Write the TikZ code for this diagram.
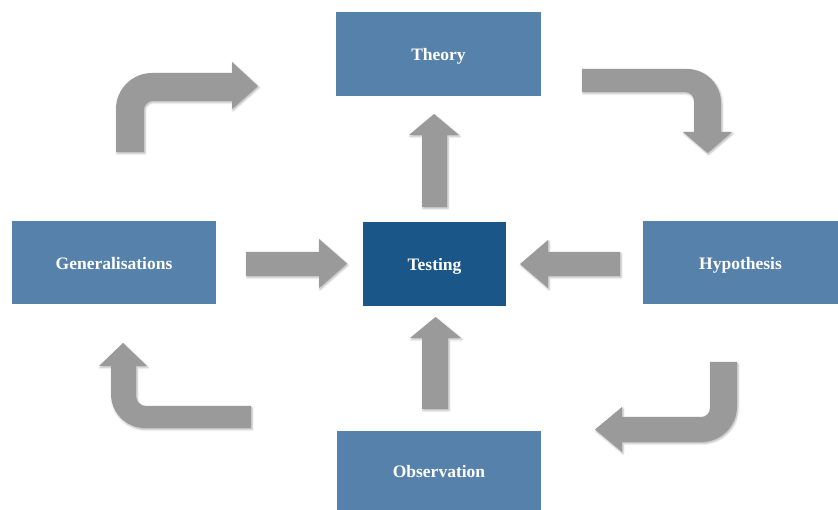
\documentclass[tikz,border=0pt]{standalone}
\usepackage{fontspec}
\setmainfont{Liberation Serif}
\usetikzlibrary{shadows.blur}

\definecolor{boxblue}{HTML}{5581AB}
\definecolor{testblue}{HTML}{1A5788}
\definecolor{arrowgray}{HTML}{9A9A9A}

\tikzset{
  stage/.style={fill=boxblue, text=white, inner sep=0pt,
    text height=14.5pt, text depth=0.5pt,
    font=\fontsize{17.5}{20}\selectfont\bfseries, anchor=center},
  core/.style={stage, fill=testblue},
  blockarrow/.style={fill=arrowgray,
    blur shadow={shadow xshift=1pt, shadow yshift=-1.5pt,
      shadow blur radius=2pt, shadow opacity=30}}
}

\begin{document}
\begin{tikzpicture}[x=1pt, y=-1pt]
  \useasboundingbox (0,0) rectangle (838,510);

  % stages of the cycle
  \node[stage, minimum width=205pt, minimum height=84pt] (theory) at (438.5,54) {Theory};
  \node[core,  minimum width=143pt, minimum height=84pt] (testing) at (434.5,264) {Testing};
  \node[stage, minimum width=204pt, minimum height=83pt] (general) at (114,262.5) {Generalisations};
  \node[stage, minimum width=195pt, minimum height=83pt] (hypo) at (740.5,262.5) {Hypothesis};
  \node[stage, minimum width=204pt, minimum height=79pt] (obs) at (439,470.5) {Observation};

  % straight block arrows into and out of Testing
  \fill[blockarrow] (246,252) -- (319,252) -- (319,239) -- (347,263.5)
    -- (319,288) -- (319,276) -- (246,276) -- cycle;
  \fill[blockarrow] (620,252) -- (548,252) -- (548,240) -- (520,264)
    -- (548,288) -- (548,276) -- (620,276) -- cycle;
  \fill[blockarrow] (422,207) -- (422,135) -- (409,135) -- (434,114)
    -- (459,135) -- (447,135) -- (447,207) -- cycle;
  \fill[blockarrow] (422,409) -- (422,338) -- (410,338) -- (435.5,317)
    -- (461,338) -- (448,338) -- (448,409) -- cycle;

  % bent block arrows around the cycle
  % Generalisations -> Theory
  \fill[blockarrow] (116,152) -- (116,109)
    .. controls (116,89.1) and (132.1,73) .. (152,73) -- (232,73)
    -- (232,62) -- (258,86) -- (232,109) -- (232,101) -- (152,101)
    .. controls (147.6,101) and (144,105.4) .. (144,109) -- (144,152) -- cycle;
  % Theory -> Hypothesis
  \fill[blockarrow] (582,69) -- (687,69)
    .. controls (705.8,69) and (721,84.2) .. (721,103) -- (721,132)
    -- (732,132) -- (707.5,153) -- (683,132) -- (694,132) -- (694,101)
    .. controls (694,96) and (690,92) .. (685,92) -- (582,92) -- cycle;
  % Hypothesis -> Observation
  \fill[blockarrow] (710,362) -- (737,362) -- (737,406)
    .. controls (737,425.9) and (720.9,442) .. (701,442) -- (622,442)
    -- (622,452) -- (595,429.5) -- (622,407) -- (622,417) -- (701,417)
    .. controls (706,417) and (710,413) .. (710,408) -- cycle;
  % Observation -> Generalisations
  \fill[blockarrow] (251,406) -- (146,406)
    .. controls (140.5,406) and (136,401.5) .. (136,396) -- (136,366)
    -- (147,366) -- (123,343) -- (99,366) -- (111,366) -- (111,394)
    .. controls (111,412.8) and (126.2,428) .. (145,428) -- (251,428) -- cycle;
\end{tikzpicture}
\end{document}
